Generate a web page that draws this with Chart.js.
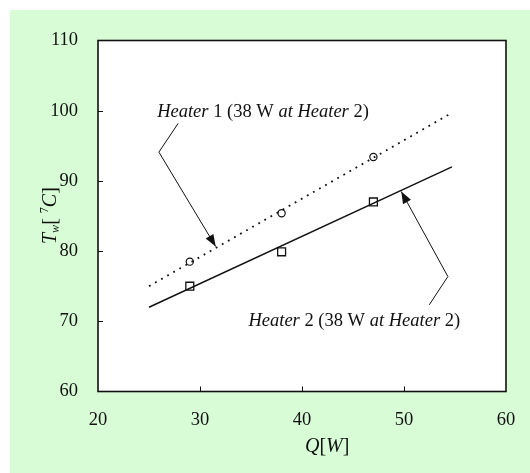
<!DOCTYPE html>
<html><head><meta charset="utf-8">
<script src="https://cdn.jsdelivr.net/npm/chart.js@4/dist/chart.umd.min.js"></script>
<style>html,body{margin:0;padding:0;background:#fff;}canvas{display:block;}</style>
</head><body>
<canvas id="c" width="530" height="473"></canvas>
<script>
// ---- data ----
const xTicks = [20, 30, 40, 50, 60];
const yTicks = [60, 70, 80, 90, 100, 110];
const heater1Q = [29, 38, 47];
const heater1T = [78.5, 85.4, 93.4];
const heater2Q = [29, 38, 47];
const heater2T = [75.0, 79.9, 87.0];
const fit1Q = [25, 54.7];
const fit1T = [75.0, 99.7];
const fit2Q = [25, 54.7];
const fit2T = [72.0, 92.0];
const label1Parts = [["Heater", true], [" 1 (38 W ", false], ["at Heater", true], [" 2)", false]];
const label2Parts = [["Heater", true], [" 2 (38 W ", false], ["at Heater", true], [" 2)", false]];
// annotation anchors in data units (Q, T)
const label1At = [25.8, 99.1];
const label2At = [34.75, 69.3];
const arrow1 = [[27.86, 98.2], [25.97, 94.1], [31.54, 80.65]];
const arrow2 = [[52.48, 72.35], [54.3, 76.38], [49.73, 88.49]];

const pts = (xs, ys) => xs.map((x, i) => ({x, y: ys[i]}));
const SERIF = '"Liberation Serif","Times New Roman",serif';

function drawParts(ctx, parts, x, y, size) {
  let cx = x;
  for (const [t, it] of parts) {
    ctx.font = (it ? 'italic ' : '') + size + 'px ' + SERIF;
    ctx.fillText(t, cx, y);
    cx += ctx.measureText(t).width;
  }
}
function arrow(ctx, p) {
  ctx.beginPath();
  ctx.moveTo(p[0][0], p[0][1]);
  for (let i = 1; i < p.length; i++) ctx.lineTo(p[i][0], p[i][1]);
  ctx.stroke();
  const a = p[p.length - 2], b = p[p.length - 1];
  const ang = Math.atan2(b[1] - a[1], b[0] - a[0]);
  const L = 12, W = 4.5;
  ctx.beginPath();
  ctx.moveTo(b[0], b[1]);
  ctx.lineTo(b[0] - L * Math.cos(ang) + W * Math.sin(ang), b[1] - L * Math.sin(ang) - W * Math.cos(ang));
  ctx.lineTo(b[0] - L * Math.cos(ang) - W * Math.sin(ang), b[1] - L * Math.sin(ang) + W * Math.cos(ang));
  ctx.closePath();
  ctx.fill();
}

const decor = {
  id: 'decor',
  beforeDraw(chart) {
    const {ctx, chartArea: a} = chart;
    ctx.save();
    ctx.fillStyle = '#ffffff';
    ctx.fillRect(0, 0, chart.width, chart.height);
    ctx.fillStyle = '#d8fdd6';
    ctx.fillRect(10, 10, chart.width - 10, chart.height - 10);
    ctx.fillStyle = '#ffffff';
    ctx.fillRect(a.left, a.top, a.right - a.left, a.bottom - a.top);
    ctx.restore();
  },
  afterDraw(chart) {
    const {ctx, chartArea: a, scales: {x, y}} = chart;
    const P = (q) => [x.getPixelForValue(q[0]), y.getPixelForValue(q[1])];
    ctx.save();
    ctx.strokeStyle = '#111';
    ctx.fillStyle = '#111';
    // frame
    ctx.lineWidth = 1.6;
    ctx.strokeRect(a.left, a.top, a.right - a.left, a.bottom - a.top);
    // inward ticks
    ctx.lineWidth = 1;
    ctx.beginPath();
    for (const v of xTicks.slice(1, -1)) { const px = Math.round(x.getPixelForValue(v)) + 0.5; ctx.moveTo(px, a.bottom); ctx.lineTo(px, a.bottom - 5); }
    for (const v of yTicks.slice(1, -1)) { const py = Math.round(y.getPixelForValue(v)) + 0.5; ctx.moveTo(a.left, py); ctx.lineTo(a.left + 5, py); }
    ctx.stroke();
    // arrows
    ctx.lineWidth = 1;
    arrow(ctx, arrow1.map(P));
    arrow(ctx, arrow2.map(P));
    // labels
    ctx.textBaseline = 'alphabetic';
    ctx.textAlign = 'left';
    const l1 = P(label1At), l2 = P(label2At);
    drawParts(ctx, label1Parts, l1[0], l1[1], 18.5);
    drawParts(ctx, label2Parts, l2[0], l2[1], 18.5);
    // x title
    const cx = (a.left + a.right) / 2 + 3;
    drawParts(ctx, [["Q", true], ["[", false], ["W", true], ["]", false]], cx, a.bottom + 60, 20);
    // y title (rotated)
    ctx.translate(a.left - 42, (a.top + a.bottom) / 2 + 28);
    ctx.rotate(-Math.PI / 2);
    let px = 0;
    ctx.font = 'italic 20px ' + SERIF; ctx.fillText('T', px, 0); px += ctx.measureText('T').width;
    ctx.font = 'italic 12px ' + SERIF; ctx.fillText('w', px, 3); px += ctx.measureText('w').width;
    ctx.font = '20px ' + SERIF; ctx.fillText('[ ', px, 0); px += ctx.measureText('[ ').width;
    ctx.font = '12px ' + SERIF; ctx.fillText('7', px, -8); px += ctx.measureText('7').width;
    ctx.font = 'italic 20px ' + SERIF; ctx.fillText('C', px, 0); px += ctx.measureText('C').width;
    ctx.font = '20px ' + SERIF; ctx.fillText(']', px, 0);
    ctx.restore();
  }
};

new Chart(document.getElementById('c'), {
  type: 'scatter',
  data: {
    datasets: [
      {data: pts(fit1Q, fit1T), showLine: true, borderColor: '#111', borderWidth: 1.8, borderDash: [1.8, 5.2], pointRadius: 0, fill: false},
      {data: pts(fit2Q, fit2T), showLine: true, borderColor: '#111', borderWidth: 1.4, pointRadius: 0, fill: false},
      {data: pts(heater1Q, heater1T), pointStyle: 'circle', pointRadius: 3.6, borderColor: '#111', borderWidth: 1.2, backgroundColor: 'rgba(0,0,0,0)'},
      {data: pts(heater2Q, heater2T), pointStyle: 'rect', pointRadius: 5.6, borderColor: '#111', borderWidth: 1.3, backgroundColor: 'rgba(0,0,0,0)'}
    ]
  },
  options: {
    responsive: false,
    animation: false,
    events: [],
    layout: {padding: {left: 0, right: 24, top: 40.5, bottom: 0}},
    plugins: {legend: {display: false}, tooltip: {enabled: false}},
    scales: {
      x: {
        type: 'linear', min: xTicks[0], max: xTicks[xTicks.length - 1],
        afterBuildTicks: s => { s.ticks = xTicks.map(v => ({value: v})); },
        afterFit: s => { s.height = 81.5; },
        grid: {display: false}, border: {display: false},
        ticks: {color: '#111', padding: 10, font: {family: SERIF, size: 18.5}, maxRotation: 0}
      },
      y: {
        type: 'linear', min: yTicks[0], max: yTicks[yTicks.length - 1],
        afterBuildTicks: s => { s.ticks = yTicks.map(v => ({value: v})); },
        afterFit: s => { s.width = 98; },
        grid: {display: false}, border: {display: false},
        ticks: {color: '#111', padding: 12, font: {family: SERIF, size: 18.5}}
      }
    }
  },
  plugins: [decor]
});
</script>
</body></html>
